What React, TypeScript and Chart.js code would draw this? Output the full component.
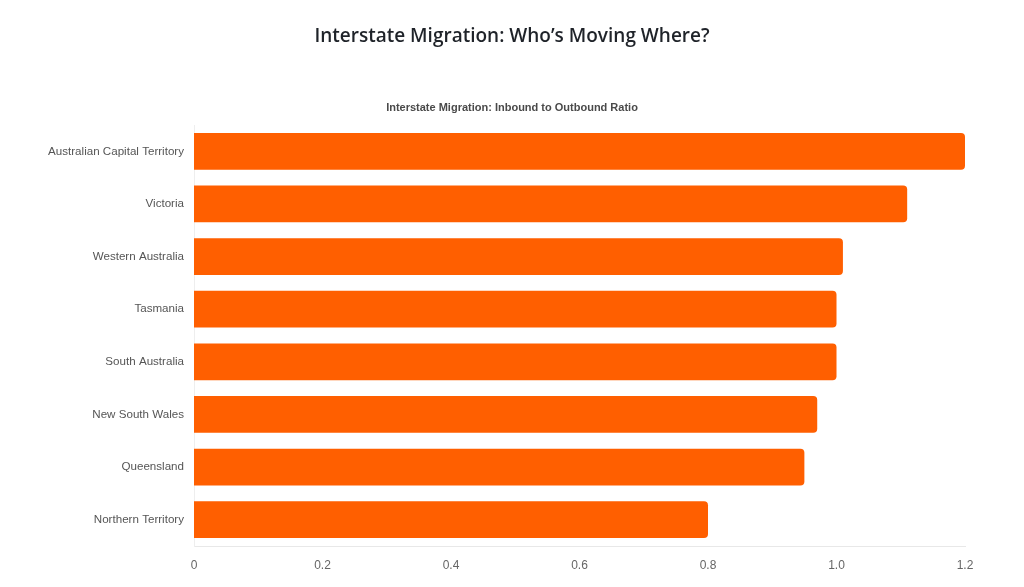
import React, { useEffect, useRef } from "react";
import { Chart, registerables } from "chart.js";

Chart.register(...registerables);

const categories = [
  "Australian Capital Territory",
  "Victoria",
  "Western Australia",
  "Tasmania",
  "South Australia",
  "New South Wales",
  "Queensland",
  "Northern Territory",
];
const ratios = [1.2, 1.11, 1.01, 1.0, 1.0, 0.97, 0.95, 0.8];
const xTickLabels = ["0", "0.2", "0.4", "0.6", "0.8", "1.0", "1.2"];

const mainTitle = "Interstate Migration: Who\u2019s Moving Where?";
const subTitle = "Interstate Migration: Inbound to Outbound Ratio";

const centeredTitles = {
  id: "centeredTitles",
  afterDraw(chart: any) {
    const ctx = chart.ctx;
    const cx = chart.width / 2;
    ctx.save();
    ctx.textAlign = "center";
    ctx.textBaseline = "middle";
    ctx.fillStyle = "#1f2329";
    ctx.font = "600 19px 'Open Sans', Lato, sans-serif";
    ctx.fillText(mainTitle, cx, 36.5);
    ctx.fillStyle = "#4a4a4a";
    ctx.font = "bold 11px 'Liberation Sans', Arial, sans-serif";
    ctx.fillText(subTitle, cx, 108);
    ctx.restore();
  },
};

export default function App() {
  const ref = useRef<HTMLCanvasElement | null>(null);

  useEffect(() => {
    if (!ref.current) return;
    const chart = new Chart(ref.current, {
      type: "bar",
      data: {
        labels: categories,
        datasets: [
          {
            label: "Ratio",
            data: ratios,
            backgroundColor: "#FF5F00",
            borderRadius: 4,
            barPercentage: 0.875,
            categoryPercentage: 0.8,
          },
        ],
      },
      plugins: [centeredTitles],
      options: {
        indexAxis: "y",
        animation: false,
        responsive: true,
        maintainAspectRatio: false,
        layout: { padding: { left: 0, right: 59, top: 125, bottom: 0 } },
        plugins: {
          legend: { display: false },
          tooltip: { enabled: false },
          title: { display: false },
        },
        scales: {
          x: {
            min: 0,
            max: 1.2,
            grid: { display: false, drawTicks: false },
            border: { display: true, color: "#e8e8e8" },
            afterFit: (scale: any) => {
              scale.height = 41;
            },
            ticks: {
              stepSize: 0.2,
              padding: 12,
              color: "#666",
              font: { family: "'Liberation Sans Narrow', 'Liberation Sans', Arial, sans-serif", size: 12 },
              callback: (_v: any, i: number) => xTickLabels[i],
            },
          },
          y: {
            grid: { display: false, drawTicks: false },
            border: { display: true, color: "#eeeeee" },
            afterFit: (scale: any) => {
              scale.width = 194;
            },
            ticks: {
              padding: 10,
              color: "#555",
              font: { family: "'Liberation Sans', Arial, sans-serif", size: 11.6 },
            },
          },
        },
      },
    });
    return () => chart.destroy();
  }, []);

  return (
    <div
      style={{
        position: "fixed",
        left: 0,
        top: 0,
        width: 1024,
        height: 587,
        background: "#ffffff",
      }}
    >
      <canvas ref={ref} />
    </div>
  );
}
